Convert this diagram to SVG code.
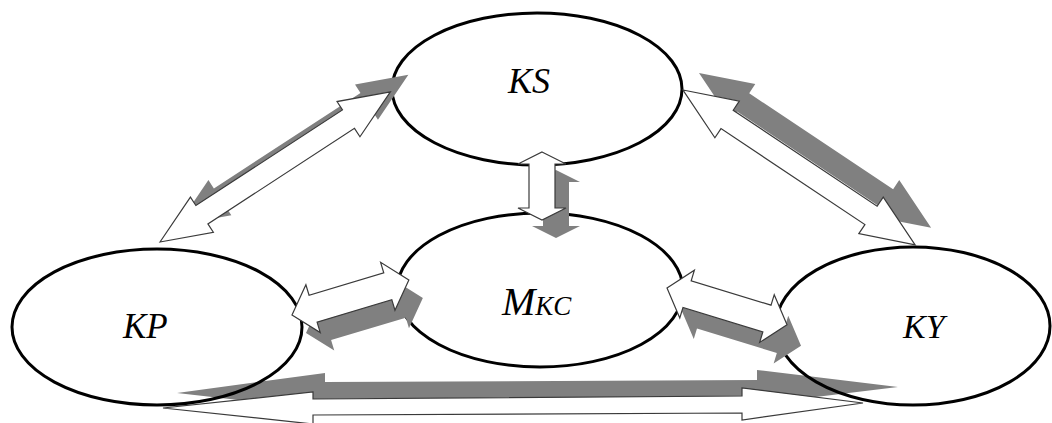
<svg xmlns="http://www.w3.org/2000/svg" width="1052" height="423" viewBox="0 0 1052 423">
  <style>
    .node { fill: none; stroke: #000; stroke-width: 3; }
    .lbl { font-family: "Liberation Serif", "Times New Roman", serif; font-style: italic; fill: #000; }
    .arrow { fill: #fff; stroke: #3a3a3a; stroke-width: 1.2; stroke-linejoin: miter; }
    .shadow { fill: #808080; stroke: none; }
  </style>
  <defs>
    <!-- double-headed block arrows, drawn along +x from the origin -->
    <path id="dbl-ks-kp" d="M0,0 L50,-21 L50,-11 L225,-11 L225,-21 L275,0 L225,21 L225,11 L50,11 L50,21 Z"/>
    <path id="dbl-ks-ky" d="M0,0 L53,-22 L53,-11 L226,-11 L226,-22 L279,0 L226,22 L226,11 L53,11 L53,22 Z"/>
    <path id="dbl-ks-mkc" d="M0,0 L12,-24 L12,-13 L56,-13 L56,-24 L68,0 L56,24 L56,13 L12,13 L12,24 Z"/>
    <path id="dbl-kp-mkc" d="M0,0 L22,-25 L22,-14 L100,-14 L100,-25 L122,0 L100,25 L100,14 L22,14 L22,25 Z"/>
    <path id="dbl-mkc-ky" d="M0,0 L21,-25 L21,-14 L104.5,-14 L104.5,-25 L125.5,0 L104.5,25 L104.5,14 L21,14 L21,25 Z"/>
  </defs>

  <rect x="0" y="0" width="1052" height="423" fill="#fff"/>

  <!-- long link along the bottom, passing beneath the outer node outlines -->
  <g id="connectors-under">
    <g id="link-kp-ky">
      <polygon class="shadow" points="177,393 325,373 325,382 757,380 757,370 898,387 757,404 757,397 325,399 325,410"/>
      <polygon class="arrow" points="163,408 313,392 313,399 742,396 742,388 863,403 742,420 742,413 313,415 313,424"/>
    </g>
  </g>

  <g id="node-ks">
    <ellipse class="node" cx="537" cy="89" rx="145" ry="76"/>
    <text class="lbl" x="508" y="93" font-size="36">KS</text>
  </g>
  <g id="node-mkc">
    <ellipse class="node" cx="540" cy="290" rx="143" ry="77"/>
    <text class="lbl" x="502" y="315"><tspan font-size="40">M</tspan><tspan font-size="27">KC</tspan></text>
  </g>
  <g id="node-kp">
    <ellipse class="node" cx="157" cy="327" rx="145" ry="78"/>
    <text class="lbl" x="123" y="338" font-size="35">KP</text>
  </g>
  <g id="node-ky">
    <ellipse class="node" cx="913" cy="326" rx="137" ry="79"/>
    <text class="lbl" x="903" y="338" font-size="34">KY</text>
  </g>

  <g id="connectors">
    <g id="link-ks-kp">
      <use href="#dbl-ks-kp" class="shadow" transform="translate(178,225) rotate(-33.1)"/>
      <use href="#dbl-ks-kp" class="arrow" transform="translate(160,242) rotate(-33.1)"/>
    </g>
    <g id="link-ks-ky">
      <use href="#dbl-ks-ky" class="shadow" transform="translate(699,73) rotate(33.7)"/>
      <use href="#dbl-ks-ky" class="arrow" transform="translate(683,90) rotate(33.7)"/>
    </g>
    <g id="link-ks-mkc">
      <use href="#dbl-ks-mkc" class="shadow" transform="translate(556,170) rotate(90)"/>
      <use href="#dbl-ks-mkc" class="arrow" transform="translate(542,152) rotate(90)"/>
    </g>
    <g id="link-kp-mkc">
      <use href="#dbl-kp-mkc" class="shadow" transform="translate(306,333) rotate(-16.7)"/>
      <use href="#dbl-kp-mkc" class="arrow" transform="translate(292,315) rotate(-16.7)"/>
    </g>
    <g id="link-mkc-ky">
      <use href="#dbl-mkc-ky" class="shadow" transform="translate(681,309) rotate(17)"/>
      <use href="#dbl-mkc-ky" class="arrow" transform="translate(667,288) rotate(17)"/>
    </g>
  </g>
</svg>
